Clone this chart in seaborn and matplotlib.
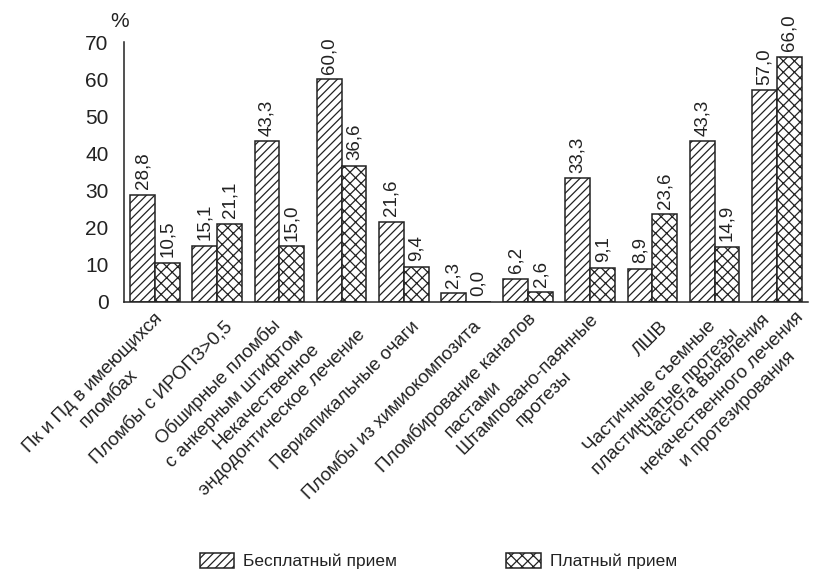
import matplotlib
matplotlib.use("Agg")
import matplotlib.pyplot as plt
import matplotlib.transforms as mtransforms
from matplotlib.patches import Patch
import pandas as pd
import seaborn as sns

categories = [
    "Пк и Пд в имеющихся\nпломбах",
    "Пломбы с ИРОПЗ>0,5",
    "Обширные пломбы\nс анкерным штифтом",
    "Некачественное\nэндодонтическое лечение",
    "Периапикальные очаги",
    "Пломбы из химиокомпозита",
    "Пломбирование каналов\nпастами",
    "Штамповано-паянные\nпротезы",
    "ЛШВ",
    "Частичные съемные\nпластинчатые протезы",
    "Частота выявления\nнекачественного лечения\nи протезирования",
]
free_values = [28.8, 15.1, 43.3, 60.0, 21.6, 2.3, 6.2, 33.3, 8.9, 43.3, 57.0]
paid_values = [10.5, 21.1, 15.0, 36.6, 9.4, 0.0, 2.6, 9.1, 23.6, 14.9, 66.0]
series_names = ["Бесплатный прием", "Платный прием"]
y_ticks = [0, 10, 20, 30, 40, 50, 60, 70]

sns.set_style("white")
ink = "#222222"
plt.rcParams["font.family"] = ["Liberation Sans", "DejaVu Sans"]
plt.rcParams["hatch.linewidth"] = 0.9
plt.rcParams["hatch.color"] = ink
plt.rcParams["text.color"] = ink

df = pd.DataFrame({
    "category": categories * 2,
    "value": free_values + paid_values,
    "group": [series_names[0]] * len(categories) + [series_names[1]] * len(categories),
})

fig = plt.figure(figsize=(8.21, 5.76), dpi=100)
ax = fig.add_axes([0.151, 0.476, 0.833, 0.451])

sns.barplot(data=df, x="category", y="value", hue="group", hue_order=series_names,
            order=categories, palette=["white", "white"], edgecolor=ink,
            linewidth=1.1, width=0.8, gap=0, legend=False, ax=ax)

hatches = ["////", "xxx"]
for container, hatch in zip(ax.containers, hatches):
    for bar in container:
        bar.set_hatch(hatch)
        bar.set_edgecolor(ink)
        bar.set_facecolor("white")
        h = bar.get_height()
        ax.annotate(f"{h:.1f}".replace(".", ","),
                    xy=(bar.get_x() + bar.get_width() / 2, h),
                    xytext=(0, 4), textcoords="offset points",
                    rotation=90, ha="center", va="bottom", fontsize=13.5, color=ink)

ax.set_xlim(-0.5, len(categories) - 0.5)
ax.set_ylim(0, 70)
ax.set_yticks(y_ticks)
ax.set_yticklabels([str(t) for t in y_ticks], fontsize=15)
ax.set_xlabel("")
ax.set_ylabel("")

for side in ["top", "right"]:
    ax.spines[side].set_visible(False)
for side in ["left", "bottom"]:
    ax.spines[side].set_color(ink)
    ax.spines[side].set_linewidth(1.1)

ax.tick_params(axis="y", direction="out", length=7, width=1.1, color=ink, pad=4, labelcolor=ink)

# category names on the group centres, ticks on group boundaries
ax.set_xticks(range(len(categories)))
ax.set_xticklabels(categories, fontsize=13.5, rotation=45, ha="right", va="center",
                   rotation_mode="anchor", multialignment="center", color=ink,
                   linespacing=1.38)
ax.tick_params(axis="x", which="major", length=0, pad=16)
ax.set_xticks([i - 0.5 for i in range(len(categories) + 1)], minor=True)
ax.tick_params(axis="x", which="minor", direction="out", length=5, width=1.1, color=ink)

shift = mtransforms.ScaledTranslation(0.13, 0, fig.dpi_scale_trans)
# the three-line label sits a little higher and to the right
shift_tall = mtransforms.ScaledTranslation(0.245, 0.09, fig.dpi_scale_trans)
for lbl in ax.get_xticklabels():
    extra = shift_tall if lbl.get_text().count("\n") >= 2 else shift
    lbl.set_transform(lbl.get_transform() + extra)

ax.text(-0.007, 1.081, "%", transform=ax.transAxes, fontsize=15, ha="center", va="center")

handles = [Patch(facecolor="white", edgecolor=ink, hatch=h, linewidth=1.1) for h in hatches]
fig.legend(handles, series_names, loc="center", bbox_to_anchor=(0.534, 0.026), ncol=2,
           frameon=False, fontsize=12.5, handlelength=2.0, handleheight=1.0,
           columnspacing=6.3, handletextpad=0.5)

fig.savefig("out.png", dpi=100)
